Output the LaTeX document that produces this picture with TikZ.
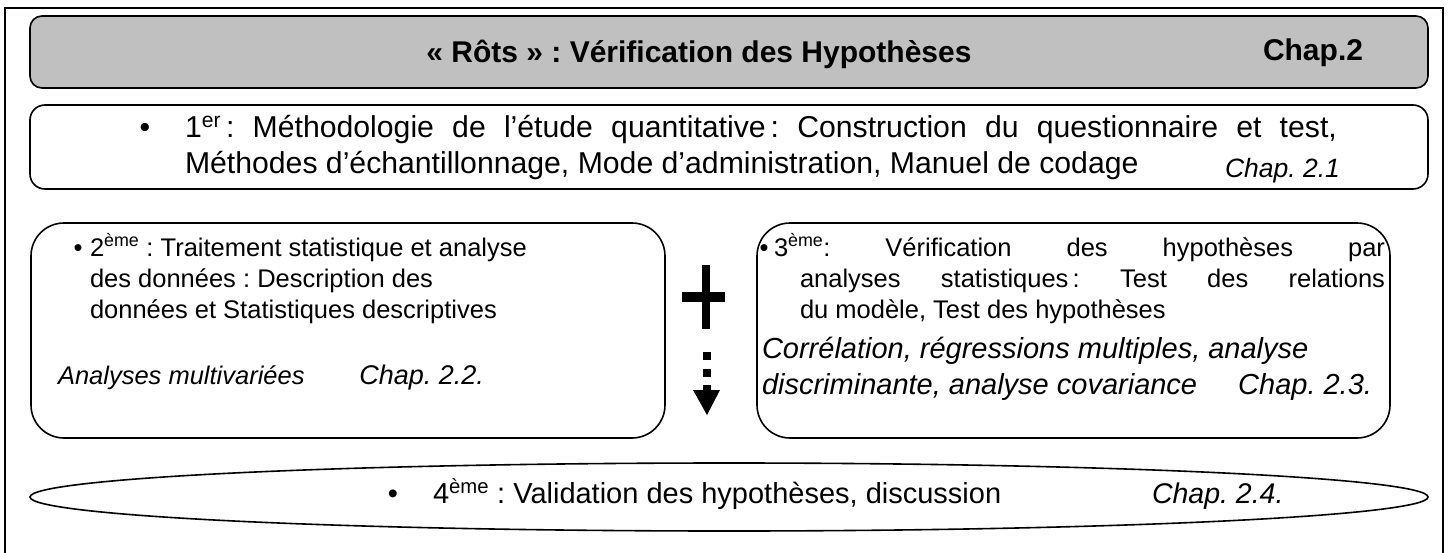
\documentclass[tikz,border=0pt]{standalone}
\usepackage{fontspec}
\setmainfont{Liberation Sans}
\usetikzlibrary{shapes.geometric}
\definecolor{hdrgray}{RGB}{192,192,192}
\frenchspacing
\begin{document}
\begin{tikzpicture}[x=1pt,y=-1pt,
  boxline/.style={draw=black,line width=1.6pt},
  txt/.style={anchor=base west,inner sep=0pt,outer sep=0pt},
  txte/.style={anchor=base east,inner sep=0pt,outer sep=0pt},
  bul/.style={anchor=base,inner sep=0pt,outer sep=0pt},
  fA/.style={font=\fontsize{30.2}{36}\selectfont},
  fB/.style={font=\fontsize{25.5}{30}\selectfont},
  fBi/.style={font=\fontsize{29}{32}\selectfont\itshape},
  fC/.style={font=\fontsize{29}{34}\selectfont},
  fT/.style={font=\fontsize{30}{36}\selectfont\bfseries}]
\useasboundingbox (0,0) rectangle (1449,552);
\fill[white] (0,0) rectangle (1449,552);
% outer frame
\draw[line width=1.6pt] (5,560) -- (5,8) -- (1443,8) -- (1443,560);
% header
\node[boxline,fill=hdrgray,rounded corners=12pt,minimum width=1398pt,minimum height=72pt,inner sep=0pt] (hdr) at (729,52) {};
\node[fT,anchor=base,inner sep=0pt] (title) at (699,62) {« Rôts » : Vérification des Hypothèses};
\node[fT,anchor=base,inner sep=0pt] (chap2) at (1313,60) {Chap.2};
% box 1
\node[boxline,rounded corners=15pt,minimum width=1398pt,minimum height=84pt,inner sep=0pt] (b1) at (729,147) {};
\node[bul,fA] (b1bul) at (145,137) {•};
\node[txt,fA] (b1l1) at (185,137) {\makebox[1152pt][s]{1\textsuperscript{er}\,: Méthodologie de l’étude quantitative\,: Construction du questionnaire et test,}};
\node[txt,fA] (b1l2) at (185,173) {Méthodes d’échantillonnage, Mode d’administration, Manuel de codage};
\node[txte,font=\fontsize{26.5}{30}\selectfont\itshape] (b1c) at (1340,177) {Chap. 2.1};
% box 2
\node[boxline,rounded corners=33pt,minimum width=634pt,minimum height=215pt,inner sep=0pt] (b2) at (348,330.5) {};
\node[bul,fB] (b2bul) at (78,256) {•};
\node[txt,fB] (b2l1) at (90,256) {2\textsuperscript{ème} : Traitement statistique et analyse};
\node[txt,fB] (b2l2) at (90,287) {des données : Description des};
\node[txt,fB] (b2l3) at (90,318) {données et Statistiques descriptives};
\node[txt,font=\fontsize{25.5}{30}\selectfont\itshape] (b2l4) at (58,384) {Analyses multivariées};
\node[txte,font=\fontsize{27}{30}\selectfont\itshape] (b2c) at (484,384) {Chap. 2.2.};
% box 3
\node[boxline,rounded corners=33pt,minimum width=633pt,minimum height=215pt,inner sep=0pt] (b3) at (1073.5,330.5) {};
\node[bul,fB] (b3bul) at (764,256) {•};
\node[txt,fB] (b3l1) at (774,256) {\makebox[611pt][s]{3\textsuperscript{ème}: Vérification des hypothèses par}};
\node[txt,fB] (b3l2) at (800,287) {\makebox[585pt][s]{analyses statistiques\,: Test des relations}};
\node[txt,fB] (b3l3) at (800,318) {du modèle, Test des hypothèses};
\node[txt,fBi] (b3l4) at (762,358) {Corrélation, régressions multiples, analyse};
\node[txt,fBi] (b3l5) at (762,394) {discriminante, analyse covariance};
\node[txte,fBi] (b3c) at (1372,394) {Chap. 2.3.};
% plus and dotted arrow
\fill (702,265) rectangle (710,329);
\fill (682,292) rectangle (725,302);
\fill (703,352) rectangle (711,360);
\fill (703,369) rectangle (711,377);
\fill (703,385) rectangle (711,391);
\fill (693,390) -- (720,390) -- (707,415) -- cycle;
% box 4 ellipse
\node[boxline,ellipse,minimum width=1398pt,minimum height=68pt,inner sep=0pt] (b4) at (729,497) {};
\node[bul,fC] (b4bul) at (393,503) {•};
\node[txt,fC] (b4l1) at (433,503) {4\textsuperscript{ème} : Validation des hypothèses, discussion};
\node[txt,font=\fontsize{28.5}{34}\selectfont\itshape] (b4c) at (1152,503) {Chap. 2.4.};
\end{tikzpicture}
\end{document}
